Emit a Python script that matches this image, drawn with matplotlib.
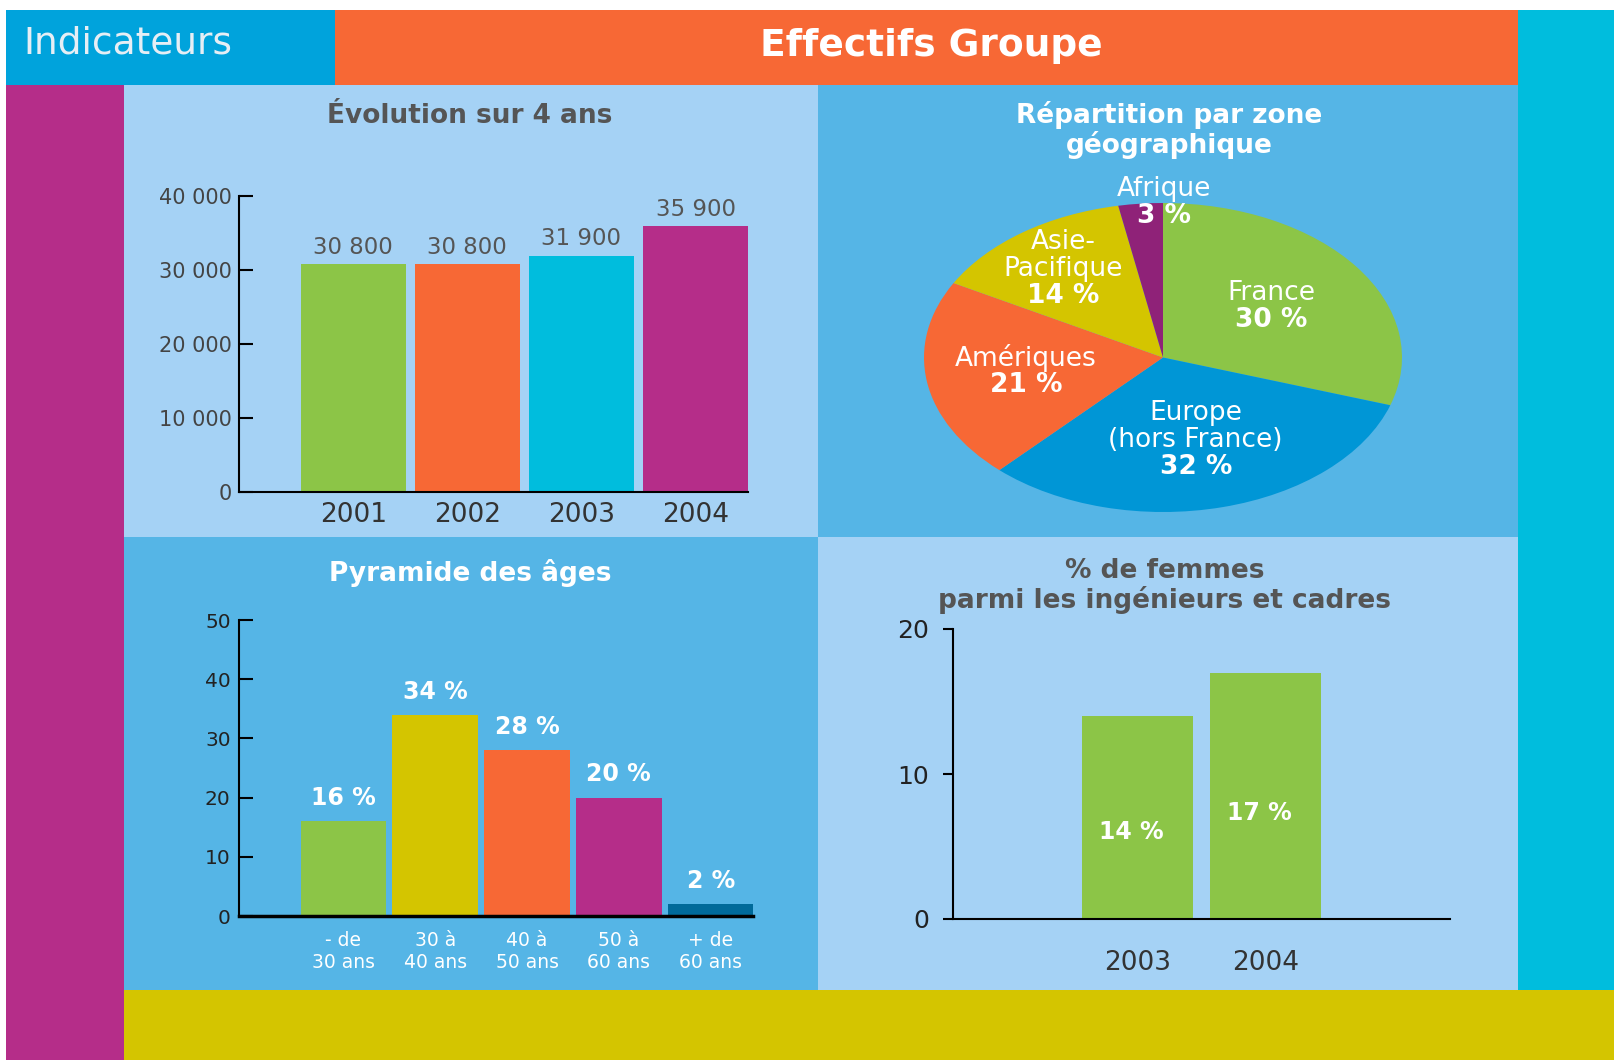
import numpy as np
import matplotlib.pyplot as plt
from matplotlib.patches import Rectangle

plt.rcParams['font.family'] = ['DejaVu Sans']

# Data
years = ['2001', '2002', '2003', '2004']
headcount = [30800, 30800, 31900, 35900]
headcount_ticks = [0, 10000, 20000, 30000, 40000]

zones = ['France', 'Europe\n(hors France)', 'Amériques', 'Asie-\nPacifique', 'Afrique']
zone_share = [30, 32, 21, 14, 3]

age_groups = ['- de\n30 ans', '30 à\n40 ans', '40 à\n50 ans', '50 à\n60 ans', '+ de\n60 ans']
age_share = [16, 34, 28, 20, 2]
age_ticks = [0, 10, 20, 30, 40, 50]

women_years = ['2003', '2004']
women_share = [14, 17]
women_ticks = [0, 10, 20]

# Colours
GREEN = '#8CC547'
ORANGE = '#F76835'
CYAN = '#00BDDD'
MAGENTA = '#B52D89'
YELLOW = '#D4C500'
BLUE = '#0096D6'
PURPLE = '#8F2278'
DARKBLUE = '#006A9A'
LIGHT = '#A5D2F5'
MID = '#55B5E6'
HEADBLUE = '#00A3DC'
GREY = '#555555'

W, H = 1614, 1060
fig = plt.figure(figsize=(W / 100, H / 100), dpi=100)
fig.patch.set_facecolor('white')


def box(x0, y0, x1, y1):
    # pixel rectangle (top-left origin) -> figure fraction
    return [x0 / W, 1 - y1 / H, (x1 - x0) / W, (y1 - y0) / H]


def panel(x0, y0, x1, y1, color):
    l, b, w, h = box(x0, y0, x1, y1)
    fig.patches.append(Rectangle((l, b), w, h, transform=fig.transFigure,
                                 facecolor=color, edgecolor='none', zorder=-10))


# Background blocks
panel(6, 10, 335, 85, HEADBLUE)
panel(335, 10, 1518, 85, ORANGE)
panel(1518, 10, 1614, 996, CYAN)
panel(6, 85, 124, 1060, MAGENTA)
panel(124, 85, 818, 537, LIGHT)
panel(818, 85, 1518, 537, MID)
panel(124, 537, 818, 990, MID)
panel(818, 537, 1518, 990, LIGHT)
panel(124, 990, 1614, 1060, YELLOW)

fig.text(23 / W, 1 - 44 / H, 'Indicateurs', color='#E6EEF5', fontsize=27,
         va='center', ha='left')
fig.text(931 / W, 1 - 46 / H, 'Effectifs Groupe', color='white', fontsize=27,
         fontweight='bold', va='center', ha='center')

# Panel titles
fig.text(470 / W, 1 - 116 / H, 'Évolution sur 4 ans', color=GREY, fontsize=19,
         fontweight='bold', ha='center', va='center')
fig.text(1169 / W, 1 - 130 / H, 'Répartition par zone\ngéographique', color='white',
         fontsize=19, fontweight='bold', ha='center', va='center', linespacing=1.1)
fig.text(470 / W, 1 - 573 / H, 'Pyramide des âges', color='white', fontsize=19,
         fontweight='bold', ha='center', va='center')
fig.text(1165 / W, 1 - 586 / H, '% de femmes\nparmi les ingénieurs et cadres', color=GREY,
         fontsize=19, fontweight='bold', ha='center', va='center', linespacing=1.05)


def style_axis(ax, spine_w=1.5, bottom_w=1.5):
    ax.set_facecolor('none')
    for s in ['top', 'right']:
        ax.spines[s].set_visible(False)
    ax.spines['left'].set_linewidth(spine_w)
    ax.spines['bottom'].set_linewidth(bottom_w)
    ax.tick_params(axis='x', length=0)


# --- Évolution sur 4 ans
ax1 = fig.add_axes(box(239, 196, 748, 492))
x = np.arange(len(years))
bars = ax1.bar(x, headcount, width=0.92, color=[GREEN, ORANGE, CYAN, MAGENTA])
ax1.set_xlim(-1.0, 3.46)
ax1.set_ylim(0, 40000)
style_axis(ax1)
ax1.set_yticks(headcount_ticks)
ax1.set_yticklabels([f'{v:,}'.replace(',', ' ') for v in headcount_ticks])
ax1.tick_params(axis='y', direction='in', length=10, width=1.5, pad=5,
                labelsize=15, labelcolor='#444444')
ax1.set_xticks(x)
ax1.set_xticklabels(years, fontsize=19, color='#333333')
ax1.tick_params(axis='x', pad=7)
for b, v in zip(bars, headcount):
    ax1.annotate(f'{v:,}'.replace(',', ' '), (b.get_x() + b.get_width() / 2, v),
                 xytext=(0, 4), textcoords='offset points', ha='center', va='bottom',
                 fontsize=16.5, color=GREY)

# --- Répartition par zone géographique
ax2 = fig.add_axes(box(924, 203, 1402, 512))
wedges, _ = ax2.pie(zone_share, colors=[GREEN, BLUE, ORANGE, YELLOW, PURPLE],
                    startangle=90, counterclock=False, radius=1)
ax2.set_aspect('auto')
ax2.set_xlim(-1, 1)
ax2.set_ylim(-1, 1)
label_r = [0.56, 0.55, 0.58, 0.71, 1.01]
label_dx = [0, 0, 0, 0, 17]  # points
line_h = 19.3  # points
for w, name, pct, r, dx in zip(wedges, zones, zone_share, label_r, label_dx):
    t = np.deg2rad((w.theta1 + w.theta2) / 2)
    px, py = r * np.cos(t), r * np.sin(t)
    k = name.count('\n') + 1
    ax2.annotate(name, (px, py), xytext=(dx, line_h / 2), textcoords='offset points',
                 ha='center', va='center', color='white', fontsize=19, linespacing=1.02,
                 annotation_clip=False)
    ax2.annotate(f'{pct} %', (px, py), xytext=(dx, -k * line_h / 2), textcoords='offset points',
                 ha='center', va='center', color='white', fontsize=19, fontweight='bold',
                 annotation_clip=False)

# --- Pyramide des âges
ax3 = fig.add_axes(box(239, 620, 753, 916))
x = np.arange(len(age_groups))
bars = ax3.bar(x, age_share, width=0.93, color=[GREEN, YELLOW, ORANGE, MAGENTA, DARKBLUE])
ax3.set_xlim(-1.135, 4.46)
ax3.set_ylim(0, 50)
style_axis(ax3, 1.5, 2.5)
ax3.set_yticks(age_ticks)
ax3.tick_params(axis='y', direction='in', length=10, width=1.5, pad=6,
                labelsize=14.5, labelcolor='#222222')
ax3.set_xticks(x)
ax3.set_xticklabels(age_groups, fontsize=13.5, color='white', linespacing=1.2)
ax3.tick_params(axis='x', pad=11)
for b, v in zip(bars, age_share):
    ax3.annotate(f'{v} %', (b.get_x() + b.get_width() / 2, v), xytext=(0, 8),
                 textcoords='offset points', ha='center', va='bottom',
                 fontsize=17, fontweight='bold', color='white')

# --- % de femmes
ax4 = fig.add_axes(box(953, 629, 1450, 919))
x = np.arange(len(women_years))
bars = ax4.bar(x, women_share, width=0.86, color=GREEN)
ax4.set_xlim(-1.44, 2.44)
ax4.set_ylim(0, 20)
style_axis(ax4)
ax4.set_yticks(women_ticks)
ax4.tick_params(axis='y', direction='out', length=7, width=1.5, pad=10,
                labelsize=18, labelcolor='#222222')
ax4.set_xticks(x)
ax4.set_xticklabels(women_years, fontsize=19, color='#333333')
ax4.tick_params(axis='x', pad=22)
for b, v in zip(bars, women_share):
    ax4.text(b.get_x() + b.get_width() / 2 - 0.05, v * 0.43, f'{v} %', ha='center',
             va='center', fontsize=17, fontweight='bold', color='white')

plt.savefig('out.png', dpi=100)
